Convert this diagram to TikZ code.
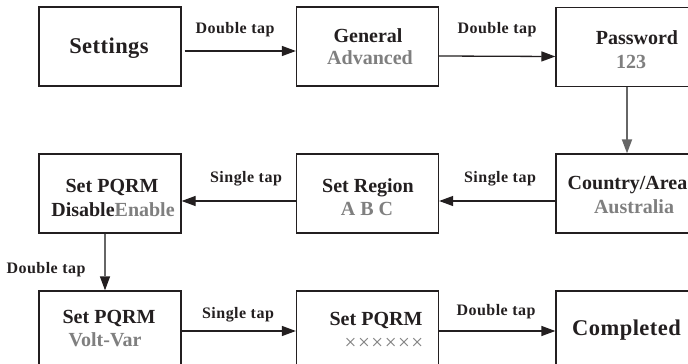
\documentclass[tikz,border=0pt]{standalone}
\usepackage{fontspec}
\setmainfont{Liberation Serif}
\usetikzlibrary{arrows.meta}
\definecolor{ink}{HTML}{231F20}
\definecolor{soft}{HTML}{7F7F7F}
\definecolor{pipe}{HTML}{666666}
\tikzset{
  box/.style={draw=ink, line width=1.3pt, minimum width=142pt, minimum height=79pt, inner sep=0pt},
  btxt/.style={anchor=base, inner sep=0pt, text=ink, font=\fontsize{20}{24}\selectfont\bfseries},
  bbig/.style={btxt, font=\fontsize{22.5}{26}\selectfont\bfseries\addfontfeature{LetterSpace=2}},
  gtxt/.style={btxt, text=soft},
  lbl/.style={anchor=base, inner sep=0pt, text=ink, font=\fontsize{16}{19}\selectfont\bfseries\addfontfeature{LetterSpace=3}},
  arr/.style={draw=ink, line width=1.3pt, -{Triangle[length=14pt,width=10pt]}},
  garr/.style={draw=pipe, line width=1.8pt, -{Triangle[length=14pt,width=10pt]}},
}
\begin{document}
\begin{tikzpicture}[x=1pt,y=-1pt]
\useasboundingbox (0,0) rectangle (688,364);
\fill[white] (0,0) rectangle (688,364);
\clip (0,0) rectangle (688,364);
% boxes
\node[box] (settings) at (110,46.5) {};
\node[box] (general)  at (367.5,46.5) {};
\node[box] (password) at (627,47) {};
\node[box] (pqrmA)    at (110,193.5) {};
\node[box] (region)   at (367.5,193.5) {};
\node[box] (country)  at (627,193.5) {};
\node[box] (pqrmB)    at (110,330.5) {};
\node[box] (pqrmC)    at (367.5,330.5) {};
\node[box] (done)     at (627,330.5) {};
% texts
\node[bbig] (t1) at (109,53) {Settings};
\node[btxt] (t2) at (368,42) {General};
\node[gtxt] (t3) at (370,64) {Advanced};
\node[btxt] (t4) at (637,44) {Password};
\node[gtxt] (t5) at (631,68) {123};
\node[btxt] (t6) at (112,192) {Set PQRM};
\node[btxt] (t7) at (113,216) {Disable\textcolor{soft}{Enable}};
\node[btxt] (t8) at (368,192) {Set Region};
\node[gtxt] (t9) at (367,215) {A B C};
\node[btxt] (t10) at (627.5,189) {Country/Area};
\node[gtxt] (t11) at (634,213) {Australia};
\node[btxt] (t12) at (109,323) {Set PQRM};
\node[gtxt] (t13) at (105,346) {Volt-Var};
\node[btxt] (t14) at (376,325) {Set PQRM};
\node[gtxt, font=\fontsize{21}{24}\selectfont] (t15) at (384,349) {×\hspace{1.5pt}×\hspace{1.5pt}×\hspace{1.5pt}×\hspace{1.5pt}×\hspace{1.5pt}×};
\node[bbig] (t16) at (626.5,335) {Completed};
% connectors
\draw[arr] ([xshift=3pt,yshift=-4.5pt]settings.east) -- ([yshift=-4.5pt]general.west);
\draw[arr] ([yshift=-9.5pt]general.east) -- ([yshift=-9.5pt]password.west);
\draw[garr] (password.south) -- (country.north);
\draw[arr] ([yshift=-7.5pt]country.west) -- ([yshift=-7.5pt]region.east);
\draw[arr] ([yshift=-7.5pt]region.west) -- ([yshift=-7.5pt]pqrmA.east);
\draw[draw=pipe, line width=1.3pt] ([xshift=-5pt]pqrmA.south) -- ([xshift=-5pt,yshift=14pt]pqrmB.north);
\draw[arr, shorten <=43pt] ([xshift=-5pt]pqrmA.south) -- ([xshift=-5pt]pqrmB.north);
\draw[arr] ([yshift=-0.5pt]pqrmB.east) -- ([yshift=-0.5pt]pqrmC.west);
\draw[arr] ([yshift=-0.5pt]pqrmC.east) -- ([yshift=-0.5pt]done.west);
% labels
\node[lbl] (l1) at (235,33) {Double tap};
\node[lbl] (l2) at (497,33) {Double tap};
\node[lbl] (l3) at (246,182) {Single tap};
\node[lbl] (l4) at (500,182) {Single tap};
\node[lbl] (l5) at (46,273) {Double tap};
\node[lbl] (l6) at (238,318) {Single tap};
\node[lbl] (l7) at (496,315) {Double tap};
\end{tikzpicture}
\end{document}
